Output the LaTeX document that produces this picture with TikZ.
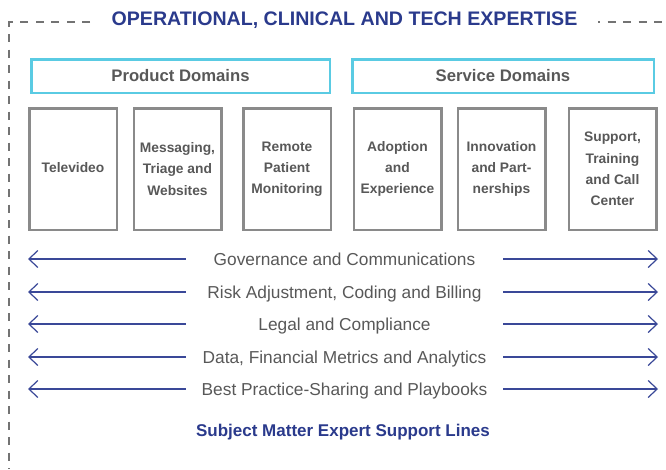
\documentclass[tikz,border=0pt]{standalone}
\usepackage{fontspec}
\setmainfont{Liberation Sans}
\usetikzlibrary{arrows.meta}

\definecolor{navy}{RGB}{42,58,140}
\definecolor{lineblue}{RGB}{58,72,152}
\definecolor{cyanbox}{RGB}{90,203,227}
\definecolor{boxgray}{RGB}{138,138,138}
\definecolor{txtgray}{RGB}{88,88,88}
\definecolor{framegray}{RGB}{115,115,115}

\tikzset{
  frame/.style={framegray,line width=2pt,dash pattern=on 8pt off 7.5pt},
  dombox/.style={draw=cyanbox,line width=2.5pt,minimum height=33.5pt,inner sep=0pt,
    text=txtgray,font=\fontsize{16.7}{20}\selectfont\bfseries},
  areabox/.style={draw=boxgray,line width=2.5pt,minimum width=87.5pt,minimum height=121.5pt,
    inner sep=0pt,align=center,text=txtgray,font=\fontsize{13.8}{21.2}\selectfont\bfseries},
  linelbl/.style={minimum width=317pt,inner sep=0pt,text height=12.4pt,text depth=0pt,
    text=txtgray,font=\fontsize{17.3}{20}\selectfont},
}

\begin{document}
\begin{tikzpicture}[>={Straight Barb[length=9pt,width=17pt]},x=1pt,y=-1pt]
                \useasboundingbox (0,0) rectangle (666,469);

                % outer frame and heading
                \draw[frame] (90,22) -- (9,22) -- (9,469);
                \draw[frame,dash phase=6pt] (598,22) -- (666,22);
                \node[navy,font=\fontsize{19.6}{22}\selectfont\bfseries] (title) at(344.5,20) {OPERATIONAL, CLINICAL AND TECH EXPERTISE};

                % domains
                \node[dombox,minimum width=298.5pt] (prod) at(180.5,76) {Product Domains};
                \node[dombox,minimum width=301.5pt] (serv) at(503,76) {Service Domains};

                \node[areabox] (tv) at(73,169) {\raisebox{4pt}{Televideo}};
                \node[areabox] (msg) at(177.5,169) {Messaging,\\Triage and\\Websites};
                \node[areabox] (rpm) at(287,169) {Remote\\Patient\\Monitoring};
                \node[areabox] (adopt) at(397.5,169) {Adoption\\and\\Experience};
                \node[areabox] (innov) at(501.5,169) {Innovation\\and Part-\\nerships};
                \node[areabox] (supp) at(612.5,169) {Support,\\Training\\and Call\\Center};

                % support lines
                \node[linelbl] (gov) at(344.5,259) {Governance and Communications};
                \node[linelbl] (risk) at(344.5,292) {Risk Adjustment, Coding and Billing};
                \node[linelbl] (legal) at(344.5,324) {Legal and Compliance};
                \node[linelbl] (data) at(344.5,357) {Data, Financial Metrics and Analytics};
                \node[linelbl] (best) at(344.5,389) {Best Practice-Sharing and Playbooks};

                \coordinate (govl) at(28,259);   \coordinate (govr) at(658,259);
                \coordinate (riskl) at(28,292);  \coordinate (riskr) at(658,292);
                \coordinate (legall) at(28,324); \coordinate (legalr) at(658,324);
                \coordinate (datal) at(28,357);  \coordinate (datar) at(658,357);
                \coordinate (bestl) at(28,389);  \coordinate (bestr) at(658,389);

                \draw[->,lineblue,line width=1.2pt] (gov.west)--(govl);
                \draw[->,lineblue,line width=1.2pt] (gov.east)--(govr);
                \draw[->,lineblue,line width=1.2pt] (risk.west)--(riskl);
                \draw[->,lineblue,line width=1.2pt] (risk.east)--(riskr);
                \draw[->,lineblue,line width=1.2pt] (legal.west)--(legall);
                \draw[->,lineblue,line width=1.2pt] (legal.east)--(legalr);
                \draw[->,lineblue,line width=1.2pt] (data.west)--(datal);
                \draw[->,lineblue,line width=1.2pt] (data.east)--(datar);
                \draw[->,lineblue,line width=1.2pt] (best.west)--(bestl);
                \draw[->,lineblue,line width=1.2pt] (best.east)--(bestr);

                \node[navy,font=\fontsize{17}{20}\selectfont\bfseries] (sme) at(343,432) {Subject Matter Expert Support Lines};
\end{tikzpicture}
\end{document}
